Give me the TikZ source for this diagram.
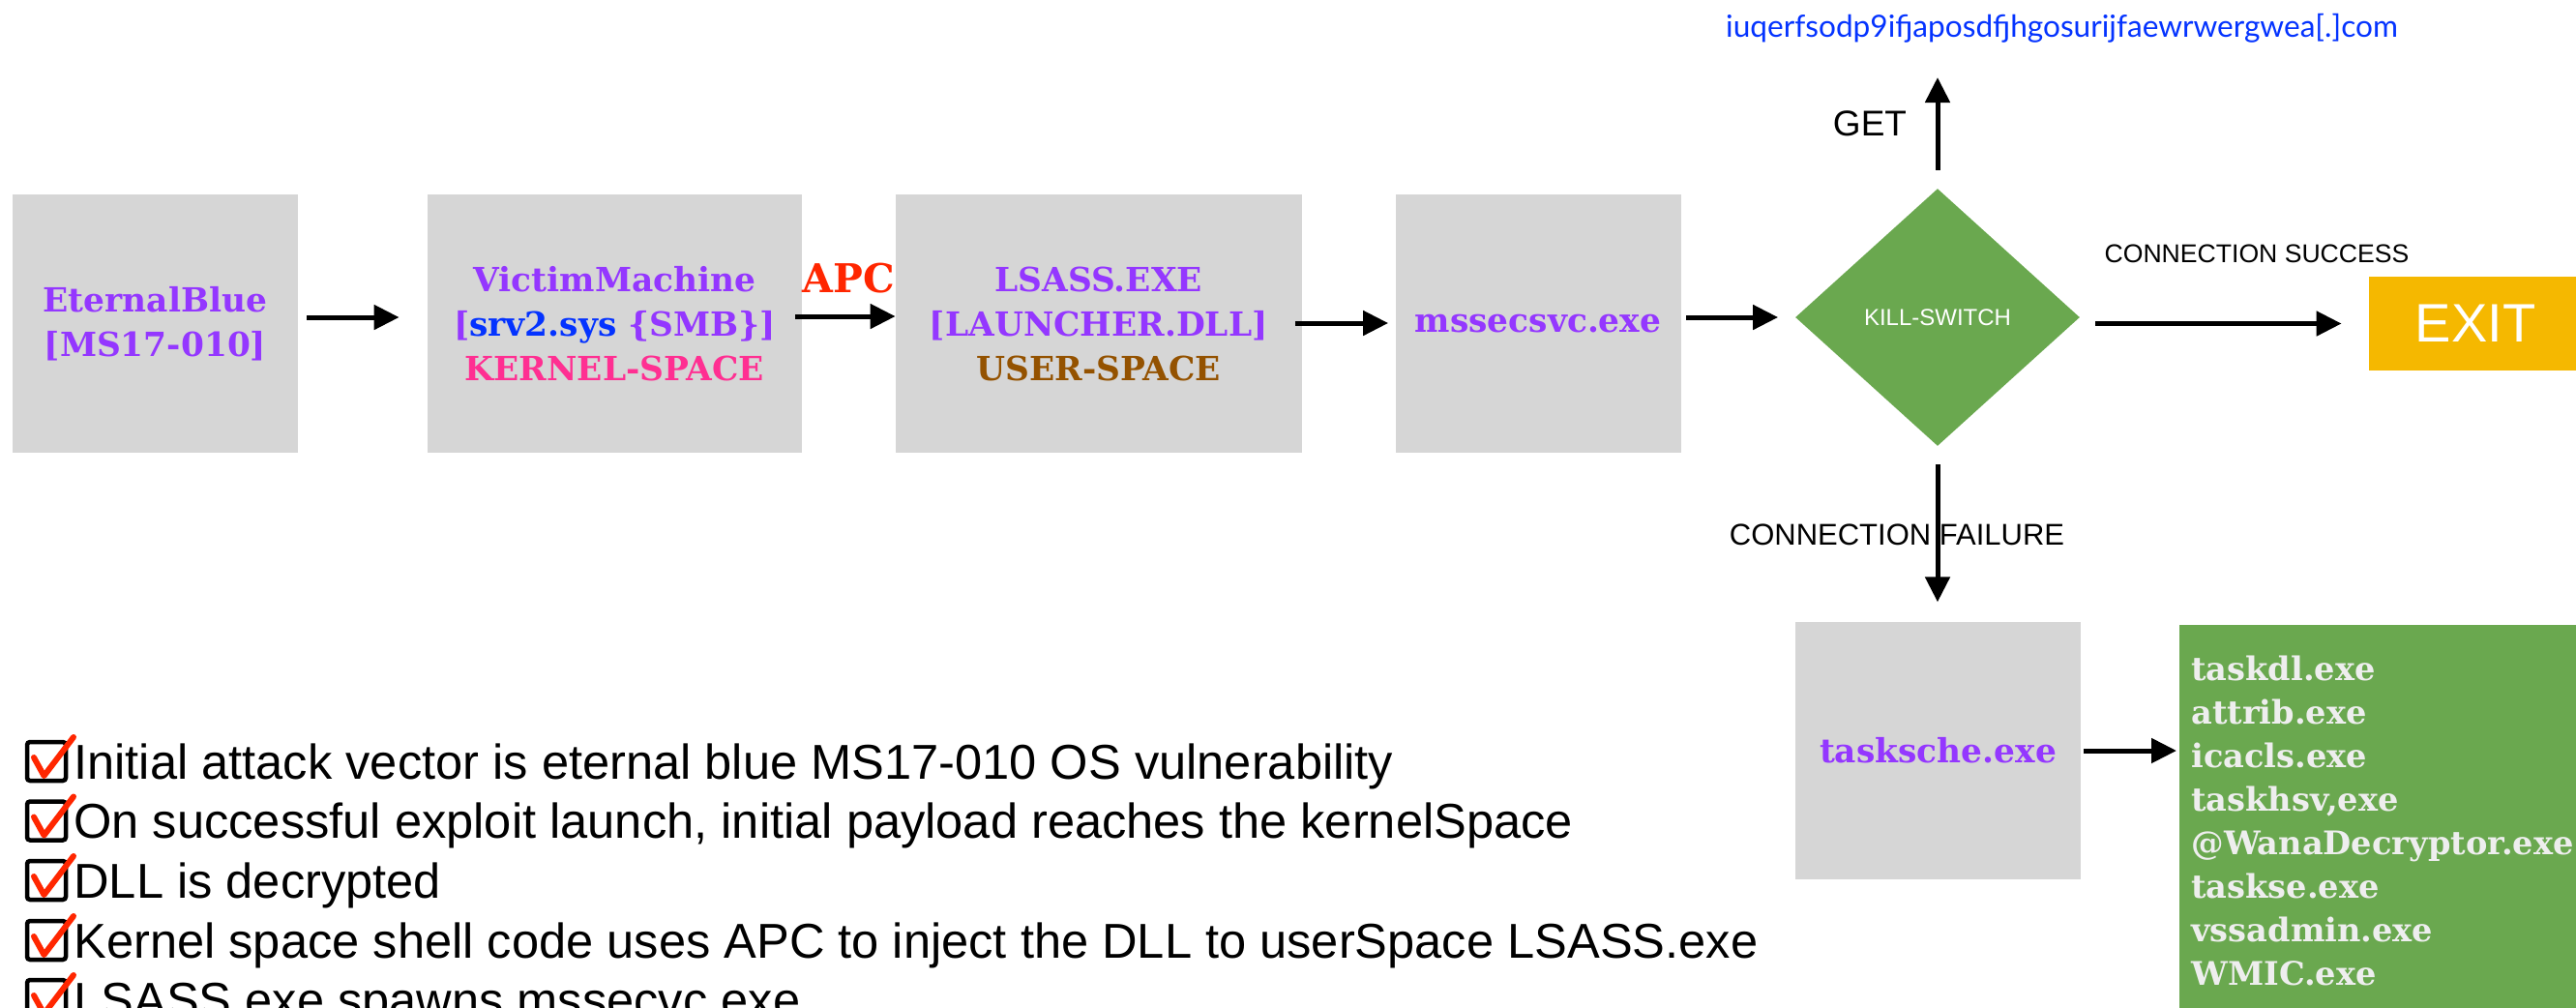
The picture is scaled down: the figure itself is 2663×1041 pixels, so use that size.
\documentclass[tikz,border=0pt]{standalone}
\usepackage{fontspec}
\setmainfont{Liberation Sans}
\newfontfamily\slab{DejaVu Serif}
\newfontfamily\gill{Lato}
\usetikzlibrary{arrows.meta,calc,shapes.geometric}
\definecolor{boxgrey}{RGB}{214,214,214}
\definecolor{vpurple}{RGB}{148,55,255}
\definecolor{sblue}{RGB}{4,51,255}
\definecolor{kpink}{RGB}{255,47,146}
\definecolor{ubrown}{RGB}{148,82,0}
\definecolor{apcred}{RGB}{255,38,0}
\definecolor{ksgreen}{RGB}{106,168,79}
\definecolor{exitorange}{RGB}{245,184,0}
\definecolor{listwhite}{RGB}{238,238,238}
\tikzset{
  greybox/.style={fill=boxgrey, draw=none, inner sep=0pt, align=center, text=vpurple,
    font={\slab\bfseries\fontsize{17.2pt}{23pt}\selectfont}},
  conn/.style={line width=2.5pt, -{Triangle[length=13pt,width=12.5pt]}},
  lbl/.style={inner sep=0pt, text=black},
  chkline/.style={inner sep=0pt, anchor=base west, font={\fontsize{25.3pt}{30pt}\selectfont}},
  chkbox/.pic={
    \draw[line width=2.25pt, rounded corners=1.5pt] (-20,-20) rectangle (20,20);
    \draw[apcred, line width=3pt, line cap=round, line join=round] (-13,-4) -- (-2.5,15) -- (28,-25);
  }
}
\begin{document}
\begin{tikzpicture}[x=0.5pt,y=-0.5pt]
\useasboundingbox (0,0) rectangle (2663,1041);
\clip (0,0) rectangle (2663,1041);

% main chain boxes
\node[greybox, minimum width=147.5pt, minimum height=133.5pt] (eb) at (160.5,334.5)
  {EternalBlue\\{[}MS17-010{]}};
\node[greybox, minimum width=193.5pt, minimum height=133.5pt] (vm) at (635.5,334.5)
  {VictimMachine\\{[}\textcolor{sblue}{srv2.sys} \{SMB\}{]}\\\textcolor{kpink}{KERNEL-SPACE}};
\node[greybox, minimum width=209.75pt, minimum height=133.5pt] (ls) at (1135.75,334.5)
  {LSASS.EXE\\{[}LAUNCHER.DLL{]}\\\textcolor{ubrown}{USER-SPACE}};
\node[greybox, minimum width=147.5pt, minimum height=133.5pt] (ms) at (1590,334.5)
  {mssecsvc.exe};
\node[diamond, fill=ksgreen, inner sep=0pt, minimum width=147pt, minimum height=133pt,
  text=white, font={\fontsize{12pt}{14pt}\selectfont}] (ks) at (2003,328) {KILL-SWITCH};
\node[fill=exitorange, inner sep=0pt, minimum width=110pt, minimum height=48.5pt,
  text=white, font={\fontsize{28pt}{32pt}\selectfont}] (exit) at (2559,334.5) {EXIT};
\node[greybox, minimum width=147.5pt, minimum height=132.75pt] (ts) at (2003.5,776)
  {tasksche.exe};
\node[fill=ksgreen, anchor=north west, inner xsep=6pt, inner ysep=0pt,
  minimum width=227pt, minimum height=202.5pt, text width=215pt, align=left,
  text=listwhite, font={\slab\bfseries\fontsize{16.8pt}{22.5pt}\selectfont}] (list) at (2253,646)
  {taskdl.exe\\attrib.exe\\icacls.exe\\taskhsv,exe\\@WanaDecryptor.exe\\taskse.exe\\vssadmin.exe\\WMIC.exe};

% labels
\node[inner sep=0pt, text=apcred, font={\slab\bfseries\fontsize{20.5pt}{24pt}\selectfont}] (apc) at (877,287.5) {APC};
\node[lbl, font={\fontsize{18.5pt}{22pt}\selectfont}] (get) at (1933,128) {GET};
\node[inner sep=0pt, text=sblue, font={\gill\fontsize{15.8pt}{18pt}\selectfont}] (url) at (2131.5,29)
  {iuqerfsodp9ifjaposdfjhgosurijfaewrwergwea[.]com};
\node[lbl, font={\fontsize{13.3pt}{16pt}\selectfont}] (succ) at (2333,262) {CONNECTION SUCCESS};
\node[lbl, font={\fontsize{15.5pt}{18pt}\selectfont}] (fail) at (1961,553) {CONNECTION FAILURE};
\coordinate (gettip) at (2003,80);

% connectors
\draw[conn, shorten <=4.5pt, shorten >=14.5pt] ([yshift=3.25pt]eb.east) -- ([yshift=3.25pt]vm.west);
\draw[conn, shorten <=-3.5pt] ([yshift=3.75pt]vm.east) -- ([yshift=3.75pt]ls.west);
\draw[conn, shorten <=-3.5pt, shorten >=3.5pt] ([yshift=0.25pt]ls.east) -- ([yshift=0.25pt]ms.west);
\draw[conn, shorten <=2.75pt, shorten >=8.75pt] ([yshift=3.25pt]ms.east) -- (ks.west);
\draw[conn, shorten <=8pt, shorten >=14pt] (ks.east |- exit.west) -- (exit.west);
\draw[conn, shorten <=9.5pt] (ks.north) -- (gettip);
\draw[conn, shorten <=9.5pt, shorten >=10.25pt] (ks.south) -- (ks.south |- ts.north);
\draw[conn, shorten <=1.5pt, shorten >=1.5pt] (ts.east) -- (ts.east -| list.west);

% checklist
\pic at (48,787) {chkbox};
\pic at (48,848.5) {chkbox};
\pic at (48,910) {chkbox};
\pic at (48,972) {chkbox};
\pic at (48,1033) {chkbox};
\node[chkline] (c1) at (76,805) {Initial attack vector is eternal blue MS17-010 OS vulnerability};
\node[chkline] (c2) at (76,866.5) {On successful exploit launch, initial payload reaches the kernelSpace};
\node[chkline] (c3) at (76,928) {DLL is decrypted};
\node[chkline] (c4) at (76,990) {Kernel space shell code uses APC to inject the DLL to userSpace LSASS.exe};
\node[chkline] (c5) at (76,1051) {LSASS.exe spawns mssecvc.exe};
\end{tikzpicture}
\end{document}
